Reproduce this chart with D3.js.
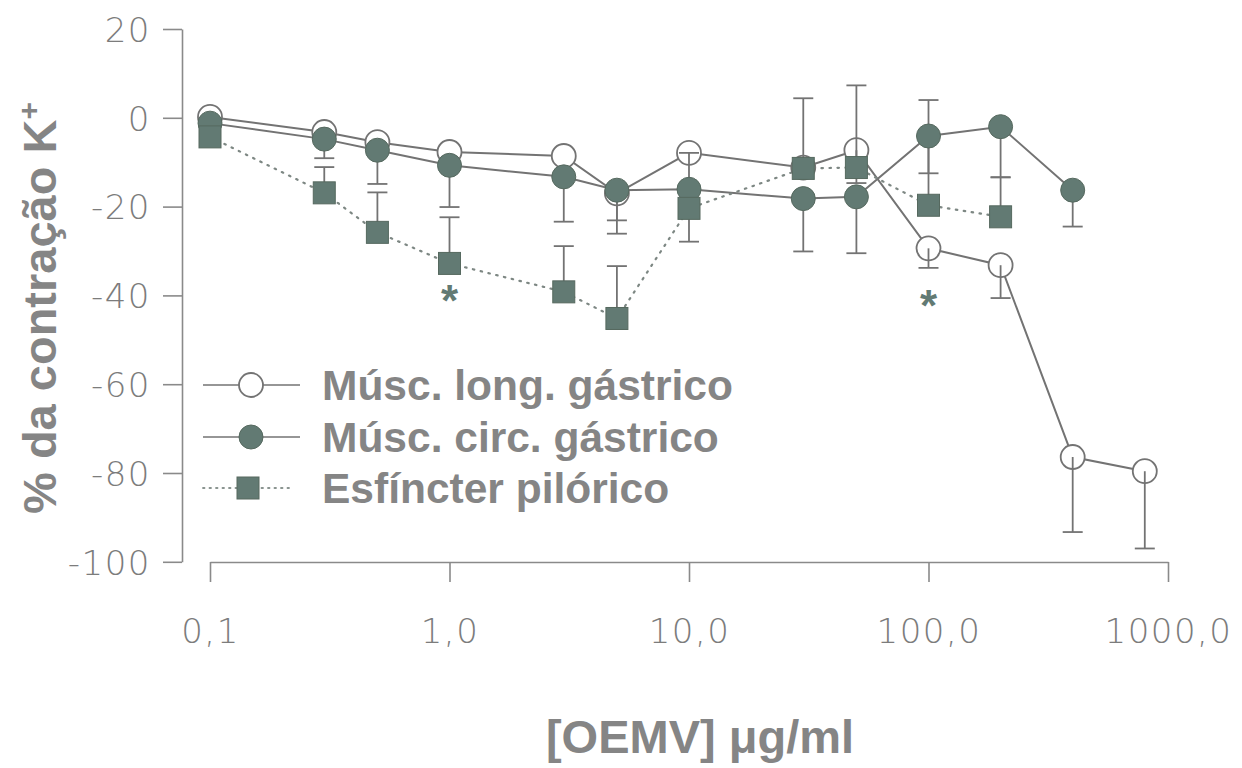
<!DOCTYPE html>
<html>
<head>
<meta charset="utf-8">
<script src="https://cdn.jsdelivr.net/npm/d3@7"></script>
<style>
  html, body { margin: 0; padding: 0; background: #ffffff; }
  svg { display: block; }
</style>
</head>
<body>
<svg id="chart" width="1242" height="768"></svg>
<script>
// Concentrations of OEMV (µg/ml)
const concentrations = [0.1, 0.3, 0.5, 1, 3, 5, 10, 30, 50, 100, 200, 400, 800];

// Músc. long. gástrico — mean and SEM (bars drawn downward)
const longMean = [0.2, -3.2, -5.5, -7.7, -8.6, -17.0, -7.9, -11.2, -7.3, -29.4, -33.2, -76.4, -79.6];
const longErr  = [0, 0, 0, 0, 0, 9.1, 0, 0, 7.4, 4.4, 7.4, 16.9, 17.4];

// Músc. circ. gástrico — mean and SEM (bars drawn downward)
const circConc = [0.1, 0.3, 0.5, 1, 3, 5, 10, 30, 50, 100, 200, 400];
const circMean = [-1.2, -4.8, -7.3, -10.7, -13.3, -16.3, -16.1, -18.2, -17.8, -4.1, -2.0, -16.3];
const circErr  = [0, 4.3, 7.6, 9.4, 10.1, 6.8, 11.8, 11.9, 12.7, 8.4, 11.4, 8.2];

// Esfíncter pilórico — mean and SEM (bars drawn upward)
const pylConc = [0.1, 0.3, 0.5, 1, 3, 5, 10, 30, 50, 100, 200];
const pylMean = [-4.3, -16.9, -25.8, -32.8, -39.2, -45.2, -20.4, -11.4, -11.2, -19.7, -22.3];
const pylErr  = [0, 5.8, 9.0, 10.4, 10.3, 11.8, 12.5, 15.8, 18.5, 23.7, 8.9];

// Significant differences (*)
const sigConc = [1, 100];
const sigLow  = [-32.8, -33.8];

// Axis ticks
const xTicks = [0.1, 1, 10, 100, 1000];
const xTickLabels = ["0,1", "1,0", "10,0", "100,0", "1000,0"];
const yTicks = [20, 0, -20, -40, -60, -80, -100];

const seriesNames = ["Músc. long. gástrico", "Músc. circ. gástrico", "Esfíncter pilórico"];

const AXIS = "#8a8a8a";
const TEXT = "#858585";
const TICK_TEXT = "#7c7c7c";
const LINE = "#737373";
const FILL = "#627a73";
const FILL_EDGE = "#56695f";

const svg = d3.select("#chart");

const x = d3.scaleLog().domain([0.1, 1000]).range([210, 1168]);
const y = d3.scaleLinear().domain([-100, 20]).range([561.8, 29]);

// ---- Axes ----
const yAxis = svg.append("g")
  .attr("transform", "translate(182,0)")
  .call(d3.axisLeft(y).tickValues(yTicks).tickSize(19).tickSizeOuter(0).tickPadding(12)
        .tickFormat(d => String(d)));
const xAxis = svg.append("g")
  .attr("transform", "translate(0,562)")
  .call(d3.axisBottom(x).tickValues(xTicks).tickSize(20).tickSizeOuter(0).tickPadding(0)
        .tickFormat((d, i) => xTickLabels[i]));

[yAxis, xAxis].forEach(g => {
  g.select(".domain").attr("stroke", AXIS).attr("stroke-width", 1.6);
  g.selectAll(".tick line").attr("stroke", AXIS).attr("stroke-width", 1.6);
  g.selectAll(".tick text")
    .attr("fill", TICK_TEXT)
    .style("font-family", "'DejaVu Sans', sans-serif")
    .style("font-weight", "300")
    .style("font-size", "34px")
    .style("letter-spacing", "1.5px");
});
yAxis.selectAll(".tick text").attr("dy", "0.36em");
xAxis.selectAll(".tick text").attr("y", 81).attr("dy", 0);

// Axis titles
svg.append("text")
  .attr("x", 700).attr("y", 753)
  .attr("text-anchor", "middle")
  .attr("fill", TEXT)
  .style("font-family", "'Liberation Sans', Arial, sans-serif")
  .style("font-weight", "bold")
  .style("font-size", "47px")
  .text("[OEMV] μg/ml");

const yTitle = svg.append("text")
  .attr("transform", "translate(56,308) rotate(-90)")
  .attr("text-anchor", "middle")
  .attr("fill", TEXT)
  .style("font-family", "'Liberation Sans', Arial, sans-serif")
  .style("font-weight", "bold")
  .style("font-size", "47px");
yTitle.append("tspan").text("% da contração K");
yTitle.append("tspan").attr("dy", "-17").style("font-size", "30px").text("+");

// ---- Data ----
const longData = concentrations.map((c, i) => ({c, v: longMean[i], e: longErr[i]}));
const circData = circConc.map((c, i) => ({c, v: circMean[i], e: circErr[i]}));
const pylData  = pylConc.map((c, i) => ({c, v: pylMean[i], e: pylErr[i]}));

const line = d3.line().x(d => x(d.c)).y(d => y(d.v));

const plot = svg.append("g");

// Connecting lines
plot.append("path").datum(longData).attr("d", line)
  .attr("fill", "none").attr("stroke", LINE).attr("stroke-width", 2);
plot.append("path").datum(circData).attr("d", line)
  .attr("fill", "none").attr("stroke", LINE).attr("stroke-width", 2);
plot.append("path").datum(pylData).attr("d", line)
  .attr("fill", "none").attr("stroke", "#7d8783").attr("stroke-width", 2.2)
  .attr("stroke-dasharray", "1.5 6.5").attr("stroke-linecap", "round");

const R = 12, S = 22, CAP = 10;

// Open circles (longitudinal muscle)
plot.selectAll(".open").data(longData).join("circle")
  .attr("cx", d => x(d.c)).attr("cy", d => y(d.v)).attr("r", R)
  .attr("fill", "#ffffff").attr("stroke", LINE).attr("stroke-width", 1.8);

// Error bars: direction -1 draws downward, +1 upward
function errorBars(data, dir) {
  const g = plot.append("g").attr("stroke", LINE).attr("stroke-width", 1.8);
  const d2 = data.filter(d => d.e > 0);
  g.selectAll("line.v").data(d2).join("line")
    .attr("x1", d => x(d.c)).attr("x2", d => x(d.c))
    .attr("y1", d => y(d.v)).attr("y2", d => y(d.v + dir * d.e));
  g.selectAll("line.c").data(d2).join("line")
    .attr("x1", d => x(d.c) - CAP).attr("x2", d => x(d.c) + CAP)
    .attr("y1", d => y(d.v + dir * d.e)).attr("y2", d => y(d.v + dir * d.e));
}
errorBars(longData, -1);
errorBars(circData, -1);
errorBars(pylData, 1);

// Filled circles (circular muscle)
plot.selectAll(".filled").data(circData).join("circle")
  .attr("cx", d => x(d.c)).attr("cy", d => y(d.v)).attr("r", R)
  .attr("fill", FILL).attr("stroke", FILL_EDGE).attr("stroke-width", 1);

// Squares (pyloric sphincter)
plot.selectAll(".sq").data(pylData).join("rect")
  .attr("x", d => x(d.c) - S / 2).attr("y", d => y(d.v) - S / 2)
  .attr("width", S).attr("height", S)
  .attr("fill", FILL).attr("stroke", FILL_EDGE).attr("stroke-width", 1);

// Significance asterisks
svg.selectAll(".sig").data(sigConc).join("text")
  .attr("x", d => x(d))
  .attr("y", (d, i) => y(sigLow[i]) + 28 + 25)
  .attr("text-anchor", "middle")
  .attr("fill", FILL)
  .style("font-family", "'Liberation Sans', Arial, sans-serif")
  .style("font-weight", "bold")
  .style("font-size", "44px")
  .text("*");

// ---- Legend ----
const legendY = [385, 437, 488];
const legend = svg.append("g");
seriesNames.forEach((name, i) => {
  const ly = legendY[i];
  const ln = legend.append("line")
    .attr("x1", 203).attr("x2", i === 2 ? 290 : 300)
    .attr("y1", ly).attr("y2", ly)
    .attr("stroke", i === 2 ? "#8a9490" : LINE)
    .attr("stroke-width", i === 2 ? 1.8 : 1.6);
  if (i === 2) ln.attr("stroke-dasharray", "1.5 5").attr("stroke-linecap", "round");
  if (i === 0) {
    legend.append("circle").attr("cx", 251).attr("cy", ly).attr("r", R)
      .attr("fill", "#fff").attr("stroke", LINE).attr("stroke-width", 1.8);
  } else if (i === 1) {
    legend.append("circle").attr("cx", 251).attr("cy", ly).attr("r", R)
      .attr("fill", FILL).attr("stroke", FILL_EDGE).attr("stroke-width", 1);
  } else {
    legend.append("rect").attr("x", 248 - S / 2).attr("y", ly - S / 2)
      .attr("width", S).attr("height", S)
      .attr("fill", FILL).attr("stroke", FILL_EDGE).attr("stroke-width", 1);
  }
  legend.append("text")
    .attr("x", 322).attr("y", ly + 15)
    .attr("fill", TEXT)
    .style("font-family", "'Liberation Sans', Arial, sans-serif")
    .style("font-weight", "bold")
    .style("font-size", "42.5px")
    .text(name);
});
</script>
</body>
</html>
